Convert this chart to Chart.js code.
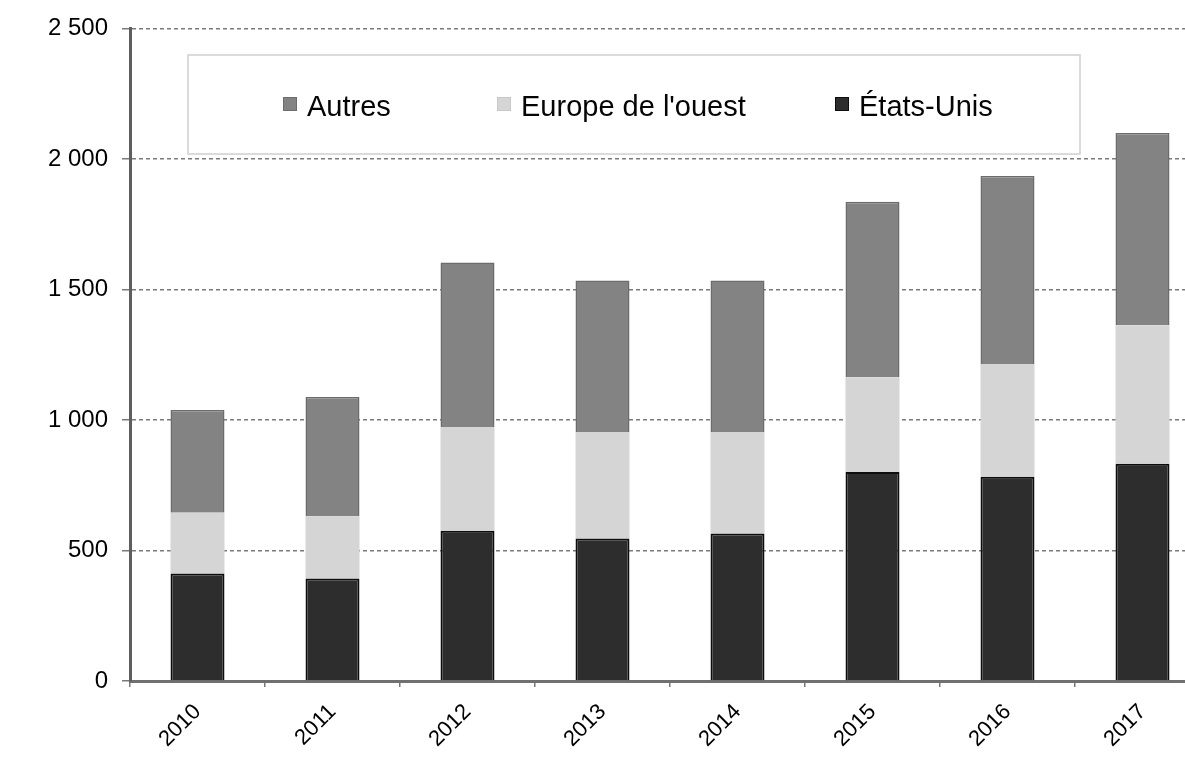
<!DOCTYPE html>
<html>
<head>
<meta charset="utf-8">
<script src="https://cdn.jsdelivr.net/npm/chart.js@4.4.1/dist/chart.umd.min.js"></script>
<style>
  html, body { margin: 0; padding: 0; background: #ffffff; overflow: hidden; }
  #wrap { width: 1185px; height: 784px; overflow: hidden; position: relative; }
  canvas { display: block; }
</style>
</head>
<body>
<div id="wrap"><canvas id="c" width="1210" height="784"></canvas></div>
<script>
const years = ['2010', '2011', '2012', '2013', '2014', '2015', '2016', '2017'];
const etatsUnis = [412, 393, 576, 546, 565, 801, 782, 832];
const europeOuest = [233, 237, 397, 408, 389, 363, 432, 531];
const autres = [393, 458, 630, 580, 580, 672, 721, 736];
const yTickLabels = ['0', '500', '1 000', '1 500', '2 000', '2 500'];
const seriesNames = ['États-Unis', "Europe de l'ouest", 'Autres'];

const FONT = "'Liberation Sans', Arial, sans-serif";

const legendBoxPlugin = {
  id: 'legendBox',
  afterDraw(chart) {
    const ctx = chart.ctx;
    ctx.save();
    ctx.fillStyle = '#ffffff';
    ctx.fillRect(188, 55, 892, 99);
    ctx.strokeStyle = '#cfcfcf';
    ctx.lineWidth = 1.5;
    ctx.strokeRect(188, 55, 892, 99);
    const ds = chart.data.datasets.slice().reverse();
    const xs = [283, 497, 835];
    ctx.font = '29px ' + FONT;
    ctx.textBaseline = 'alphabetic';
    ds.forEach((d, i) => {
      const x = xs[i];
      ctx.fillStyle = d.backgroundColor;
      ctx.fillRect(x, 97, 14, 14);
      ctx.strokeStyle = d.borderColor;
      ctx.lineWidth = 1;
      ctx.strokeRect(x + 0.5, 97.5, 13, 13);
      ctx.fillStyle = '#050505';
      ctx.fillText(d.label, x + 24, 116);
    });
    ctx.restore();
  }
};

new Chart(document.getElementById('c'), {
  type: 'bar',
  data: {
    labels: years,
    datasets: [
      { label: seriesNames[0], data: etatsUnis, backgroundColor: '#2d2d2d', borderColor: '#0d0d0d', borderWidth: 2 },
      { label: seriesNames[1], data: europeOuest, backgroundColor: '#d5d5d5', borderColor: '#c8c8c8', borderWidth: 0 },
      { label: seriesNames[2], data: autres, backgroundColor: '#838383', borderColor: '#6c6c6c', borderWidth: 1.5 }
    ]
  },
  options: {
    responsive: false,
    animation: false,
    devicePixelRatio: 1,
    layout: { padding: { top: 26, right: 0, bottom: 0, left: 0 } },
    plugins: { legend: { display: false }, tooltip: { enabled: false } },
    datasets: { bar: { barPercentage: 0.40, categoryPercentage: 1.0 } },
    scales: {
      x: {
        stacked: true,
        afterFit(scale) { scale.height = 103; },
        grid: { display: true, drawOnChartArea: false, offset: true, tickLength: 6, color: '#777777', lineWidth: 1.5 },
        border: { display: true, color: '#707070', width: 3 },
        ticks: {
          minRotation: 45, maxRotation: 45, padding: 12,
          color: '#000000',
          font: { family: FONT, size: 22 }
        }
      },
      y: {
        stacked: true,
        min: 0, max: 2500,
        afterFit(scale) { scale.width = 130; },
        grid: { color: '#7a7a7a', lineWidth: 1.5, tickLength: 8, drawTicks: true },
        border: { display: true, color: '#5e5e5e', width: 3, dash: [4, 3] },
        ticks: {
          stepSize: 500,
          padding: 14,
          color: '#000000',
          font: { family: FONT, size: 24 },
          callback: (v) => yTickLabels[Math.round(v / 500)]
        }
      }
    }
  },
  plugins: [legendBoxPlugin]
});
</script>
</body>
</html>
